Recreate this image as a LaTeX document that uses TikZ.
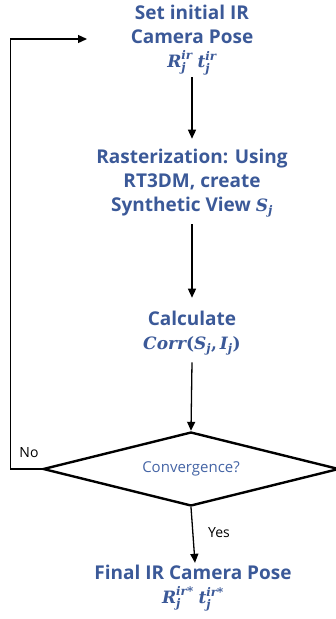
\documentclass[tikz,border=0pt]{standalone}
\usepackage{amsmath}
\usepackage{fontspec}
\setmainfont{Open Sans}
\newfontfamily\mserif{DejaVu Serif}
\newcommand{\mi}[1]{\text{\mserif\bfseries\itshape #1}}
\newcommand{\mup}[1]{\text{\mserif\bfseries #1}}
\usetikzlibrary{shapes.geometric,arrows.meta}
\definecolor{tblue}{RGB}{59,89,152}
\definecolor{lblue}{RGB}{68,100,165}
\begin{document}
\begin{tikzpicture}[x=1pt,y=-1pt,
  txt/.style={text=tblue,font=\fontsize{19}{24}\selectfont\bfseries,align=center,inner sep=0pt},
  mth/.style={font=\fontsize{17}{24}\selectfont},
  arr/.style={-{Triangle[length=9pt,width=8pt]},line width=1.3pt},
  lab/.style={font=\fontsize{14}{18}\selectfont,inner sep=0pt}]
\useasboundingbox (0,0) rectangle (335,619);
\node[txt] (start) at (192,40) {Set initial IR\\Camera Pose\\{\fontsize{17}{24}\selectfont$\mi{R}_{\mi{j}}^{\mi{ir}}\;\mi{t}_{\mi{j}}^{\mi{ir}}$}};
\node[txt] (raster) at (192,183) {Rasterization: Using\\RT3DM, create\\Synthetic View {\fontsize{17}{24}\selectfont$\mi{S}_{\mi{j}}$}};
\node[txt] (calc) at (192,333) {Calculate\\{\fontsize{17}{24}\selectfont$\mi{Corr}\mup{(}\mi{S}_{\mi{j}}\mup{,}\,\mi{I}_{\mi{j}}\mup{)}$}};
\node[draw,line width=2.4pt,diamond,shape aspect=4,minimum width=296pt,minimum height=74pt,inner sep=0pt,
  text=lblue,font=\fontsize{15}{19}\selectfont] (dec) at (191,469) {Convergence?};
\node[txt] (final) at (193,588) {Final IR Camera Pose\\{\fontsize{17}{24}\selectfont$\mi{R}_{\mi{j}}^{\mi{ir*}}\;\mi{t}_{\mi{j}}^{\mi{ir*}}$}};
\node[lab] (no) at (29,453) {No};
\node[lab] (yes) at (219,533) {Yes};
\coordinate (fbin) at (87,39);
\draw[arr] ([yshift=-2pt]start.south) -- ([yshift=10pt]raster.north);
\draw[arr] ([yshift=-7pt]raster.south) -- ([yshift=13pt]calc.north);
\draw[arr] ([yshift=-7pt]calc.south) -- (dec.north);
\draw[arr] (dec.south) -- ([xshift=2pt,yshift=2pt]final.north);
\draw[line width=1.3pt,-{Triangle[length=9pt,width=8pt]}] (dec.west) -- ++(-31,0) |- (fbin);
\end{tikzpicture}
\end{document}
